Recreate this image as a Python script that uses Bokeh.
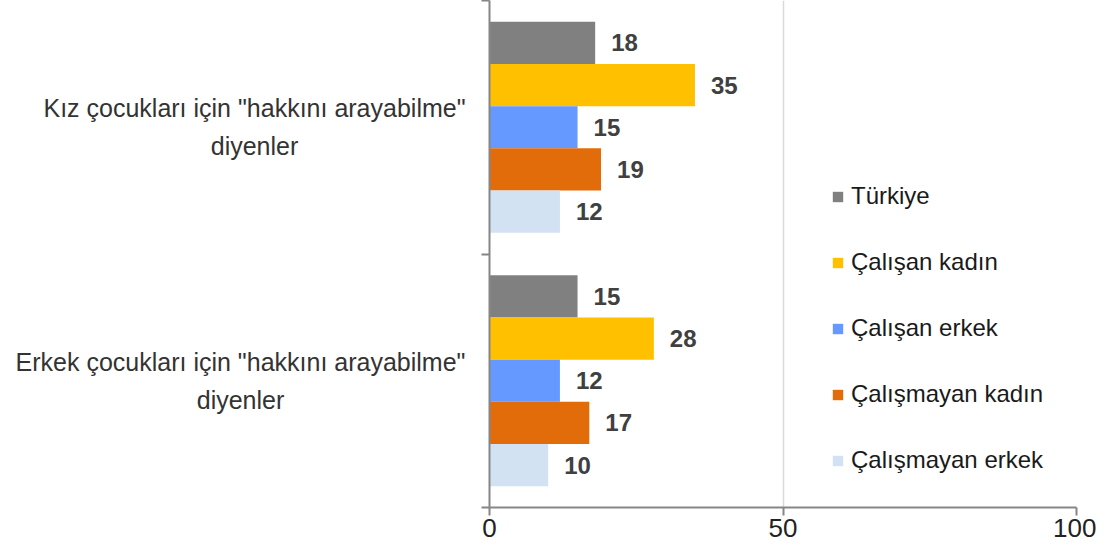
from bokeh.plotting import figure
from bokeh.layouts import row
from bokeh.models import Range1d, FixedTicker, Legend, LegendItem, ColumnDataSource
from bokeh.core.properties import value
from bokeh.embed import file_html
from bokeh.resources import INLINE

categories = ['Kız çocukları için "hakkını arayabilme"\ndiyenler',
              'Erkek çocukları için "hakkını arayabilme"\ndiyenler']
series = ["Türkiye", "Çalışan kadın", "Çalışan erkek", "Çalışmayan kadın", "Çalışmayan erkek"]
kiz_values = [18, 35, 15, 19, 12]
erkek_values = [15, 28, 12, 17, 10]
colors = ["#808080", "#FFC000", "#6699FF", "#E26B0A", "#D3E2F2"]
x_ticks = [0, 50, 100]

FONT = "Liberation Sans"
LEFT_W = 475          # width of the label panel (px)
cat_label_x = [254, 240]   # style: horizontal centre of each centred label block (px)

n_cat = len(categories)
cat_centers = [n_cat - i - 0.5 for i in range(n_cat)]
y_range = Range1d(0, n_cat)

# ---- main chart ----
p = figure(width=1096 - LEFT_W, height=544, x_range=Range1d(0, 100), y_range=y_range,
           output_backend="svg", toolbar_location=None,
           min_border_left=14, min_border_right=20, min_border_top=0, min_border_bottom=37)
p.outline_line_color = None

bar_h = 0.1664
offsets = [(2 - j) * bar_h for j in range(len(series))]

renderers = []
for j, s in enumerate(series):
    vals = [kiz_values[j], erkek_values[j]]
    ys = [c + offsets[j] for c in cat_centers]
    src = ColumnDataSource(dict(y=ys, right=vals, lab=[str(v) for v in vals]))
    r = p.hbar(y="y", right="right", left=0, height=bar_h, source=src,
               fill_color=colors[j], line_color=None)
    renderers.append(r)
    p.text(x="right", y="y", text="lab", source=src, x_offset=16,
           text_align="left", text_baseline="middle",
           text_font=value(FONT), text_font_style="bold", text_font_size="24px",
           text_color="#404040")

yax = p.yaxis[0]
yax.ticker = FixedTicker(ticks=[], minor_ticks=list(range(n_cat + 1)))
yax.major_tick_line_color = None
yax.major_label_standoff = 0
yax.minor_tick_in = 0
yax.minor_tick_out = 8
yax.minor_tick_line_color = "#868686"
yax.minor_tick_line_width = 2
yax.axis_line_color = "#868686"
yax.axis_line_width = 2

xax = p.xaxis[0]
xax.ticker = FixedTicker(ticks=x_ticks)
xax.major_tick_in = 0
xax.major_tick_out = 8
xax.major_tick_line_color = "#868686"
xax.major_tick_line_width = 2
xax.minor_tick_line_color = None
xax.axis_line_color = "#868686"
xax.axis_line_width = 2
xax.major_label_text_font = FONT
xax.major_label_text_font_size = "26px"
xax.major_label_text_color = "#222222"
xax.major_label_standoff = 3

p.xgrid.ticker = FixedTicker(ticks=x_ticks[1:])
p.xgrid.grid_line_color = "#D9D9D9"
p.xgrid.grid_line_width = 1.5
p.ygrid.grid_line_color = None

legend = Legend(items=[LegendItem(label=s, renderers=[r]) for s, r in zip(series, renderers)],
                location=(342, 33), spacing=38, label_height=28, glyph_height=13, glyph_width=13,
                label_standoff=7, padding=0, margin=0, border_line_color=None,
                background_fill_alpha=0, label_text_font=FONT, label_text_font_size="24px",
                label_text_color="#1a1a1a")
p.add_layout(legend)

# ---- category label panel ----
lp = figure(width=LEFT_W, height=544, x_range=Range1d(0, LEFT_W), y_range=y_range,
            output_backend="svg", toolbar_location=None,
            x_axis_location=None, y_axis_location=None,
            min_border_left=0, min_border_right=0, min_border_top=0, min_border_bottom=37)
lp.outline_line_color = None
lp.xgrid.visible = False
lp.ygrid.visible = False
lsrc = ColumnDataSource(dict(x=cat_label_x, y=cat_centers, t=categories))
lp.text(x="x", y="y", text="t", source=lsrc, text_align="center", text_baseline="middle",
        text_font=value(FONT), text_font_size="25px", text_color="#333333",
        text_line_height=1.35)

layout = row(lp, p, spacing=0)
open("out.html", "w").write(file_html(layout, INLINE))
